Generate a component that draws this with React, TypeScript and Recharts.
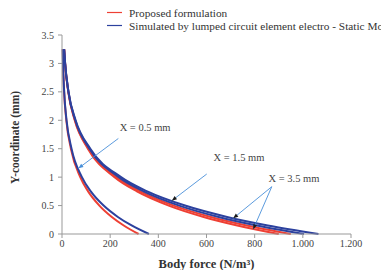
import React from 'react';
import { LineChart, Line, XAxis, YAxis, ReferenceLine, ReferenceDot, Legend } from 'recharts';

// y-coordinate levels (mm) at which each curve was read
const yLevels = [3.25, 3.0, 2.5, 2.0, 1.5, 1.0, 0.75, 0.5, 0.3, 0.15, 0];

// body force (N/m^3) read at each y level
const x05Proposed = [3, 4.3, 8.8, 18.0, 37.0, 75.7, 108.4, 155.2, 206.8, 256.4, 318];
const x05Simulated = [3, 4.3, 9.1, 18.9, 39.6, 82.7, 119.5, 172.8, 232, 289, 361];
const x15Proposed = [9, 12.9, 26.4, 54.0, 110.6, 226.5, 324.1, 463.9, 617.9, 766.2, 950];
const x15Simulated = [9, 13.0, 27.1, 56.5, 117.6, 245.2, 354, 511, 685.5, 854.5, 1065];
const x35Proposed = [9, 12.8, 26.0, 52.9, 107.5, 218.2, 311, 443.2, 588.3, 727.7, 900];
const x35Simulated = [9, 12.9, 26.7, 55.2, 114, 235.6, 338.5, 486.5, 650.3, 808.4, 1005];

const xTicks = [0, 200, 400, 600, 800, 1000, 1200];
const yTicks = [0, 0.5, 1, 1.5, 2, 2.5, 3, 3.5];

const legendItems = ['Proposed formulation', 'Simulated by lumped circuit element electro - Static Model'];

// annotations: label text, label anchor, arrow segments [from, to] in data units
const annotations = [
  { text: 'X = 0.5 mm', at: { x: 345, y: 1.88 }, head: '#4a90d9', arrows: [[{ x: 234, y: 1.68 }, { x: 68, y: 1.155 }]] },
  { text: 'X = 1.5 mm', at: { x: 735, y: 1.34 }, head: '#1a1a1a', arrows: [[{ x: 601, y: 1.055 }, { x: 456, y: 0.586 }]] },
  {
    text: 'X = 3.5 mm',
    at: { x: 963, y: 0.97 },
    head: '#1a1a1a',
    arrows: [
      [{ x: 871, y: 0.832 }, { x: 711, y: 0.276 }],
      [{ x: 871, y: 0.832 }, { x: 794, y: 0.083 }],
    ],
  },
];

const FONT = '"Liberation Serif", "Times New Roman", serif';
const RED = '#ee4034';
const BLUE = '#2c419e';
const ARROW = '#4a90d9';

const toSeries = (xs: number[]) => xs.map((x, i) => ({ x, y: yLevels[i] }));

const series = [
  { name: 'x05p', xs: x05Proposed, color: RED },
  { name: 'x35p', xs: x35Proposed, color: RED },
  { name: 'x15p', xs: x15Proposed, color: RED },
  { name: 'x05s', xs: x05Simulated, color: BLUE },
  { name: 'x35s', xs: x35Simulated, color: BLUE },
  { name: 'x15s', xs: x15Simulated, color: BLUE },
];

const fmtX = (v: number) => (v >= 1000 ? `${Math.floor(v / 1000)}.${String(v % 1000).padStart(3, '0')}` : String(v));

const makeArrow = (head: string) => (p: any) => {
  const { x1, y1, x2, y2 } = p;
  const ang = Math.atan2(y2 - y1, x2 - x1);
  const L = 5;
  const W = 2;
  const bx = x2 - L * Math.cos(ang);
  const by = y2 - L * Math.sin(ang);
  const px = -Math.sin(ang) * W;
  const py = Math.cos(ang) * W;
  return (
    <g>
      <line x1={x1} y1={y1} x2={x2} y2={y2} stroke={ARROW} strokeWidth={0.9} />
      <polygon points={`${x2},${y2} ${bx + px},${by + py} ${bx - px},${by - py}`} fill={head} />
    </g>
  );
};

const LegendContent = () => (
  <svg width={381} height={32} style={{ display: 'block', overflow: 'hidden' }}>
    <line x1={107} x2={122} y1={12.5} y2={12.5} stroke={RED} strokeWidth={1.2} />
    <text x={129} y={16.5} fontFamily={FONT} fontSize={11.3} fill="#333">{legendItems[0]}</text>
    <line x1={107} x2={122} y1={25.5} y2={25.5} stroke={BLUE} strokeWidth={1.2} />
    <text x={129} y={29.5} fontFamily={FONT} fontSize={11.3} fill="#333">{legendItems[1]}</text>
  </svg>
);

const YLabel = (props: any) => {
  const vb = props.viewBox || { y: 35, height: 199 };
  const cx = 15;
  const cy = vb.y + vb.height / 2 + 3;
  return (
    <text
      x={cx}
      y={cy}
      transform={`rotate(-90 ${cx} ${cy})`}
      textAnchor="middle"
      dominantBaseline="central"
      fontFamily={FONT}
      fontSize={11.5}
      fontWeight="bold"
      fill="#333"
    >
      Y-coordinate (mm)
    </text>
  );
};

const tickStyle = { fontFamily: FONT, fontSize: 10, fill: '#444', style: { fontFamily: FONT } };

export default function App() {
  return (
    <div style={{ position: 'absolute', left: 0, top: 0, width: 381, height: 270, background: '#fff', fontFamily: FONT }}>
      <LineChart width={381} height={270} margin={{ top: 35, right: 30, bottom: 0, left: 0 }} style={{ fontFamily: FONT }}>
        <Legend
          layout="vertical"
          align="center"
          verticalAlign="middle"
          content={LegendContent}
          wrapperStyle={{ left: 0, top: 0, width: 381, height: 32 }}
        />
        <XAxis
          dataKey="x"
          type="number"
          domain={[0, 1200]}
          ticks={xTicks}
          tickFormatter={fmtX}
          height={36}
          stroke="#999"
          tickSize={4}
          tickMargin={2}
          tick={tickStyle}
          label={{
            value: 'Body force (N/m³)',
            position: 'insideBottom',
            offset: 2,
            style: { fontFamily: FONT, fontSize: 12.5, fontWeight: 'bold', fill: '#333' },
          }}
        />
        <YAxis
          dataKey="y"
          type="number"
          domain={[0, 3.5]}
          ticks={yTicks}
          width={62}
          stroke="#999"
          tickSize={4}
          tickMargin={4}
          tick={tickStyle}
          label={YLabel}
        />
        {series.map((s) => (
          <Line
            key={s.name}
            data={toSeries(s.xs)}
            dataKey="y"
            type="monotone"
            stroke={s.color}
            strokeWidth={2}
            dot={false}
            activeDot={false}
            isAnimationActive={false}
          />
        ))}
        {annotations.flatMap((a, i) =>
          a.arrows.map((seg, j) => (
            <ReferenceLine key={`a${i}-${j}`} segment={seg} shape={makeArrow(a.head)} ifOverflow="visible" />
          ))
        )}
        {annotations.map((a, i) => (
          <ReferenceDot
            key={`t${i}`}
            x={a.at.x}
            y={a.at.y}
            r={0}
            ifOverflow="visible"
            shape={(p: any) => (
              <text
                x={p.cx}
                y={p.cy}
                textAnchor="middle"
                dominantBaseline="central"
                fontFamily={FONT}
                fontSize={10.5}
                fill="#444"
              >
                {a.text}
              </text>
            )}
          />
        ))}
      </LineChart>
    </div>
  );
}
